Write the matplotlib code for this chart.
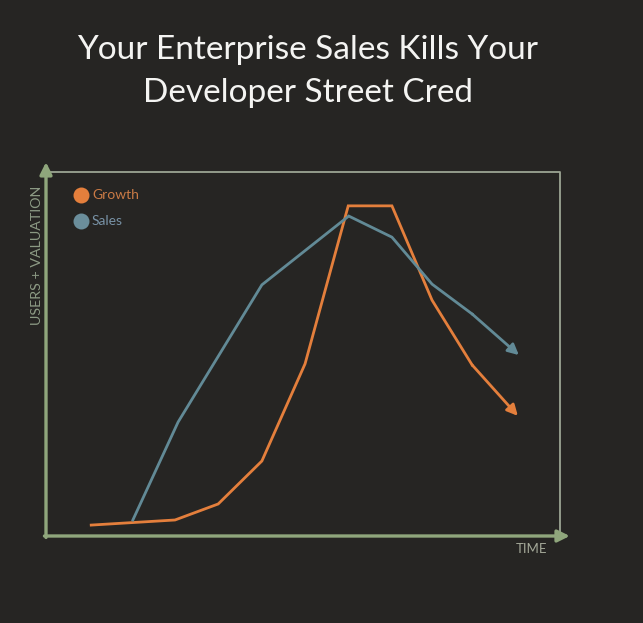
import matplotlib.pyplot as plt

# values (time 0-100, users+valuation 0-100)
growth_x = [8.8, 25.1, 33.5, 42.0, 50.4, 58.8, 67.3, 75.1, 82.9, 91.8]
growth_y = [3.0, 4.4, 8.8, 20.6, 47.3, 90.7, 90.7, 64.8, 47.0, 33.0]

sales_x = [16.9, 25.7, 42.0, 58.9, 67.3, 75.1, 82.9, 92.0]
sales_y = [4.4, 31.3, 69.0, 87.9, 82.1, 69.2, 61.0, 49.7]

series_names = ['Growth', 'Sales']

bg = '#262523'
orange = '#E47F3C'
slate = '#628A96'
frame = '#8FA67C'

fig = plt.figure(figsize=(6.43, 6.23), dpi=100)
fig.patch.set_facecolor(bg)

ax = fig.add_axes([46 / 643, 87 / 623, 514 / 643, 364 / 623])
ax.set_facecolor('none')
ax.set_xlim(0, 100)
ax.set_ylim(0, 100)
for s in ax.spines.values():
    s.set_visible(False)
ax.set_xticks([])
ax.set_yticks([])

# thin top / right frame
ax.plot([0, 1, 1], [1, 1, 0], transform=ax.transAxes, color='#9CA593',
        lw=1.3, clip_on=False)

# axes with arrow heads
ax.annotate('', xy=(0, 1.027), xytext=(0, -0.004), xycoords='axes fraction',
            arrowprops=dict(arrowstyle='-|>', color=frame, lw=2.4,
                            mutation_scale=18, shrinkA=0, shrinkB=0))
ax.annotate('', xy=(1.019, 0), xytext=(-0.003, 0), xycoords='axes fraction',
            arrowprops=dict(arrowstyle='-|>', color=frame, lw=2.4,
                            mutation_scale=18, shrinkA=0, shrinkB=0))

# the two curves, last segment carries the arrow head
for xs, ys, c in [(growth_x, growth_y, orange), (sales_x, sales_y, slate)]:
    ax.plot(xs[:-1], ys[:-1], color=c, lw=2.0, solid_joinstyle='miter',
            clip_on=False)
    ax.annotate('', xy=(xs[-1], ys[-1]), xytext=(xs[-2], ys[-2]),
                arrowprops=dict(arrowstyle='-|>', color=c, lw=2.0,
                                mutation_scale=16, shrinkA=0, shrinkB=0))

# legend
ax.plot([81 / 643], [1 - 195 / 623], 'o', color=orange, ms=11.5,
        mec='none', transform=fig.transFigure, clip_on=False)
ax.plot([81 / 643], [1 - 221 / 623], 'o', color='#6B8E9B', ms=11.5,
        mec='none', transform=fig.transFigure, clip_on=False)
fig.text(92 / 643, 1 - 195 / 623, series_names[0], color='#C97A45',
         fontsize=10, ha='left', va='center', family='Lato')
fig.text(92 / 643, 1 - 221 / 623, series_names[1], color='#7892A6',
         fontsize=10, ha='left', va='center', family='Lato')

# axis labels
fig.text(37 / 643, 1 - 255 / 623, 'USERS + VALUATION', color='#8C9A84',
         fontsize=10.3, rotation=90, ha='center', va='center', family='Lato')
fig.text(532 / 643, 1 - 549 / 623, 'TIME', color='#A3A898', fontsize=9.5,
         ha='center', va='center', family='Lato')

# title
fig.text(308 / 643, 1 - 50 / 623, 'Your Enterprise Sales Kills Your',
         color='#F4F4F2', fontsize=24, ha='center', va='center',
         family='Lato')
fig.text(308 / 643, 1 - 93 / 623, 'Developer Street Cred',
         color='#F4F4F2', fontsize=24, ha='center', va='center',
         family='Lato')

fig.savefig('out.png', dpi=100, facecolor=bg)
